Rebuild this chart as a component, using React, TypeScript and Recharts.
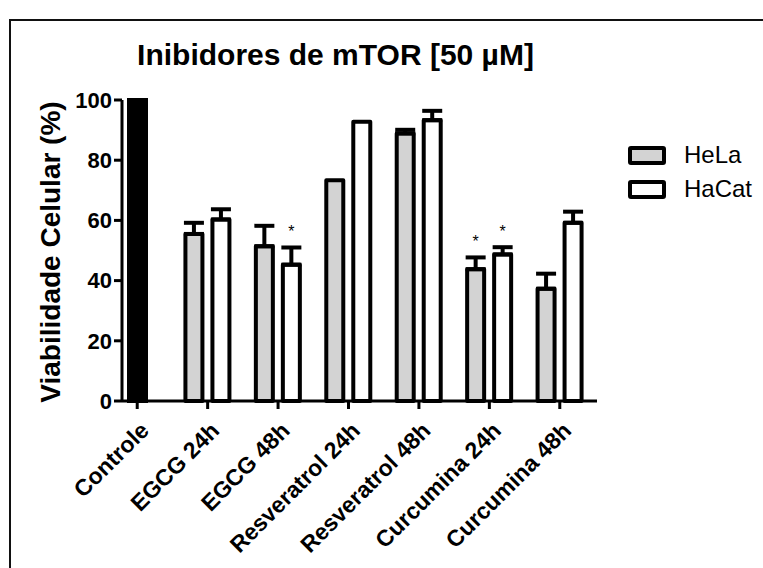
import { BarChart, Bar, XAxis, YAxis, ErrorBar, Legend, LabelList } from 'recharts';

const categories = ['Controle', 'EGCG 24h', 'EGCG 48h', 'Resveratrol 24h', 'Resveratrol 48h', 'Curcumina 24h', 'Curcumina 48h'];
const controle = [100, null, null, null, null, null, null];
const hela = [null, 55.5, 51.4, 73.3, 88.9, 43.8, 37.3];
const helaErr = [null, 3.7, 6.8, 0, 1.2, 3.9, 5.0];
const hacat = [null, 60.3, 45.3, 92.8, 93.3, 48.7, 59.2];
const hacatErr = [null, 3.4, 5.7, 0, 3.1, 2.4, 3.7];
const helaSig = [false, false, false, false, false, true, false];
const hacatSig = [false, false, true, false, false, true, false];
const yTicks = [0, 20, 40, 60, 80, 100];
const legendNames = ['HeLa', 'HaCat'];
const legendFills = ['#d3d3d3', '#ffffff'];

const data = categories.map((cat, i) => ({
  cat,
  controle: controle[i],
  hela: hela[i],
  hacat: hacat[i],
  helaErr: helaErr[i],
  hacatErr: hacatErr[i],
  // asterisk marker: holds the error size so the star sits above the cap
  helaStar: helaSig[i] ? helaErr[i] || 0 : null,
  hacatStar: hacatSig[i] ? hacatErr[i] || 0 : null,
}));

const W = 763;
const H = 568;
const margin = { top: 100, right: 166, bottom: 47, left: 0 };
const X_AXIS_H = 120;
const X_PAD = { left: -20, right: 2 };
// px per % on the y axis
const k = (H - margin.top - margin.bottom - X_AXIS_H) / 100;

const XTick = (props: any) => {
  const { x, y, payload } = props;
  return (
    <g transform={`translate(${x},${y})`}>
      <text transform="translate(13,21) rotate(-45)" textAnchor="end" fontSize={23} fontWeight="bold" fill="#000">
        {payload.value}
      </text>
    </g>
  );
};

const renderStar = (p: any) => {
  if (p.value == null) return null;
  return (
    <text x={p.x + p.width / 2} y={p.y - Number(p.value) * k - 10} textAnchor="middle" fontSize={16} fill="#000">
      *
    </text>
  );
};

const renderLegend = () => (
  <div>
    {legendNames.map((n, i) => (
      <div key={n} style={{ display: 'flex', alignItems: 'center', height: 34 }}>
        <div style={{ width: 30, height: 11, border: '4px solid #000', borderRadius: 3, background: legendFills[i] }} />
        <span style={{ marginLeft: 18, fontSize: 24, lineHeight: '34px', color: '#000', whiteSpace: 'nowrap' }}>{n}</span>
      </div>
    ))}
  </div>
);

export default function App() {
  return (
    <div style={{ position: 'absolute', left: 0, top: 0, width: W, height: H, overflow: 'hidden', background: '#fff', fontFamily: '"Liberation Sans", Arial, sans-serif' }}>
      <svg width={W} height={H} style={{ position: 'absolute', left: 0, top: 0 }}>
        <rect x={10} y={20} width={800} height={600} fill="none" stroke="#111" strokeWidth={2} />
        <text x={335.5} y={65} textAnchor="middle" fontSize={30} fontWeight="bold" fill="#000">
          Inibidores de mTOR [50 µM]
        </text>
        <text transform="translate(50,252) rotate(-90)" textAnchor="middle" dominantBaseline="central" fontSize={28} fontWeight="bold" fill="#000">
          Viabilidade Celular (%)
        </text>
      </svg>
      <div style={{ position: 'absolute', left: 0, top: 0 }}>
        <BarChart width={W} height={H} data={data} margin={margin} barSize={17} barGap={10}>
          <XAxis
            xAxisId="main"
            dataKey="cat"
            height={X_AXIS_H}
            interval={0}
            padding={X_PAD}
            tick={<XTick />}
            tickSize={8}
            tickLine={{ stroke: '#000', strokeWidth: 3 }}
            axisLine={{ stroke: '#000', strokeWidth: 3 }}
          />
          <XAxis xAxisId="ctrl" dataKey="cat" hide height={0} padding={X_PAD} />
          <YAxis
            domain={[0, 100]}
            ticks={yTicks}
            width={122}
            tickSize={8}
            tick={{ fill: '#000', fontSize: 22, fontWeight: 'bold' }}
            tickLine={{ stroke: '#000', strokeWidth: 3 }}
            axisLine={{ stroke: '#000', strokeWidth: 3 }}
          />
          <Bar xAxisId="ctrl" dataKey="controle" fill="#000" stroke="#000" strokeWidth={4} legendType="none" isAnimationActive={false} />
          <Bar xAxisId="main" dataKey="hela" name="HeLa" fill="#d3d3d3" stroke="#000" strokeWidth={4} strokeLinejoin="round" isAnimationActive={false}>
            <ErrorBar dataKey={(d: any) => (d.helaErr ? [0, d.helaErr] : null)} width={10} strokeWidth={4} stroke="#000" direction="y" />
            <LabelList dataKey="helaStar" content={renderStar} />
          </Bar>
          <Bar xAxisId="main" dataKey="hacat" name="HaCat" fill="#ffffff" stroke="#000" strokeWidth={4} strokeLinejoin="round" isAnimationActive={false}>
            <ErrorBar dataKey={(d: any) => (d.hacatErr ? [0, d.hacatErr] : null)} width={10} strokeWidth={4} stroke="#000" direction="y" />
            <LabelList dataKey="hacatStar" content={renderStar} />
          </Bar>
          <Legend
            layout="vertical"
            align="center"
            verticalAlign="middle"
            content={renderLegend}
            wrapperStyle={{ left: 628, top: 138, width: 130, height: 70 }}
          />
        </BarChart>
      </div>
    </div>
  );
}
